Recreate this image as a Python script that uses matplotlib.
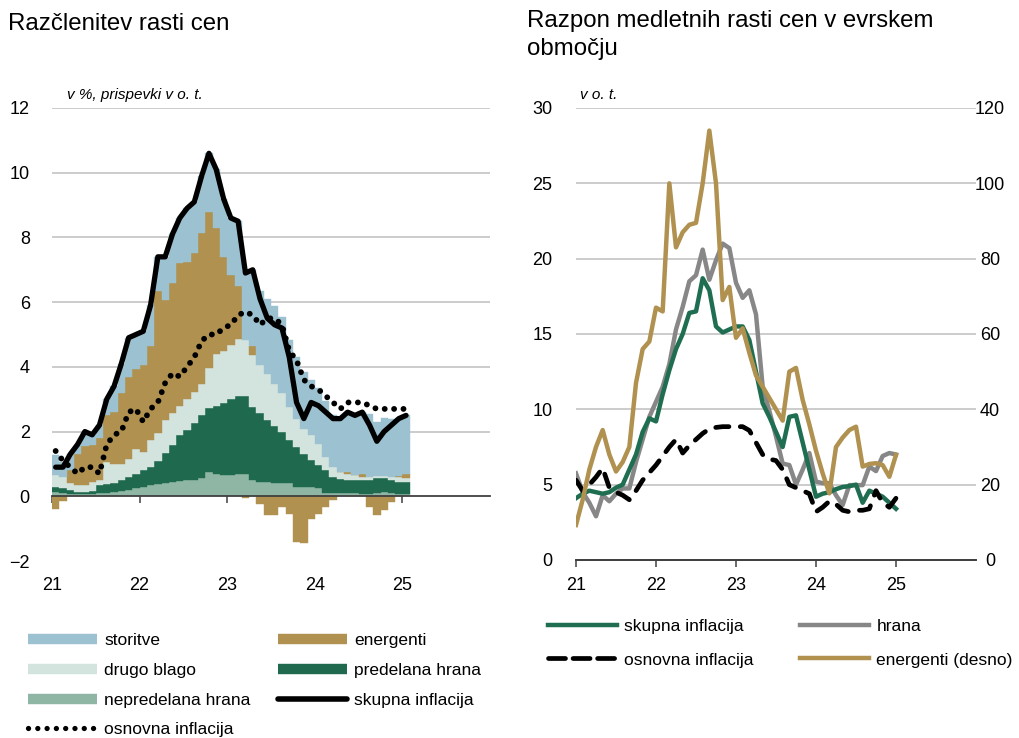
import matplotlib
matplotlib.use('Agg')
import matplotlib.pyplot as plt
from matplotlib.lines import Line2D
import numpy as np

plt.rcParams['font.family'] = ['Liberation Sans', 'DejaVu Sans']

W, H = 1019, 738

# monthly, Jan 2021 .. Jan 2025
months = np.arange(49)
year_ticks = [0, 12, 24, 36, 48]
year_labels = ['21', '22', '23', '24', '25']

# left panel: contributions, p.p.
headline = [0.9, 0.9, 1.3, 1.6, 2.0, 1.9, 2.2, 3.0, 3.4, 4.1, 4.9, 5.0,
            5.1, 5.9, 7.4, 7.4, 8.1, 8.6, 8.9, 9.1, 9.9, 10.6, 10.1, 9.2,
            8.6, 8.5, 6.9, 7.0, 6.1, 5.5, 5.3, 5.2, 4.3, 2.9, 2.4, 2.9,
            2.8, 2.6, 2.4, 2.4, 2.6, 2.5, 2.6, 2.2, 1.7, 2.0, 2.2, 2.4,
            2.5]
core = [1.4, 1.1, 0.9, 0.7, 0.9, 0.9, 0.7, 1.6, 1.9, 2.0, 2.6, 2.7,
        2.3, 2.7, 2.9, 3.5, 3.8, 3.7, 4.0, 4.3, 4.8, 5.0, 5.0, 5.2,
        5.3, 5.6, 5.7, 5.6, 5.3, 5.5, 5.5, 5.3, 4.5, 4.2, 3.6, 3.4,
        3.3, 3.1, 2.9, 2.7, 2.9, 2.9, 2.9, 2.8, 2.7, 2.7, 2.7, 2.7,
        2.7]
unprocessed_food = [0.12, 0.1, 0.08, 0.06, 0.06, 0.08, 0.1, 0.1, 0.12, 0.15, 0.2, 0.25,
                    0.3, 0.35, 0.38, 0.4, 0.45, 0.48, 0.5, 0.5, 0.55, 0.75, 0.7, 0.65,
                    0.65, 0.7, 0.7, 0.5, 0.45, 0.45, 0.42, 0.4, 0.4, 0.3, 0.3, 0.3,
                    0.25, 0.1, 0.1, 0.1, 0.1, 0.1, 0.08, 0.08, 0.1, 0.12, 0.1, 0.08,
                    0.08]
processed_food = [0.17, 0.15, 0.12, 0.07, 0.07, 0.07, 0.24, 0.28, 0.3, 0.35, 0.4, 0.45,
                  0.5, 0.55, 0.72, 0.94, 1.15, 1.41, 1.55, 1.75, 1.95, 1.98, 2.1, 2.24,
                  2.35, 2.39, 2.4, 2.26, 2.11, 1.9, 1.74, 1.59, 1.33, 1.23, 1.02, 0.81,
                  0.71, 0.7, 0.5, 0.42, 0.4, 0.4, 0.42, 0.42, 0.45, 0.43, 0.4, 0.37,
                  0.37]
other_goods = [0.36, 0.35, 0.2, 0.21, 0.21, 0.3, 0.16, 0.68, 0.58, 0.5, 0.56, 0.77,
               0.56, 0.83, 0.86, 1.01, 0.98, 0.89, 0.97, 0.98, 0.98, 1.22, 1.61, 1.61,
               1.67, 1.76, 1.72, 1.6, 1.49, 1.44, 1.32, 1.19, 1.03, 0.87, 0.77, 0.78,
               0.67, 0.42, 0.31, 0.23, 0.2, 0.15, 0.1, 0.1, 0.07, 0.07, 0.1, 0.15,
               0.1]
energy = [-0.38, -0.15, 0.42, 0.98, 1.2, 1.15, 1.3, 1.44, 1.6, 2.2, 2.53, 2.45,
          2.7, 2.9, 4.37, 3.72, 4.02, 4.44, 4.23, 4.28, 4.65, 4.85, 3.88, 2.89,
          2.17, 1.65, -0.05, 0.3, -0.25, -0.59, -0.59, -0.33, -0.54, -1.4, -1.45, -0.69,
          -0.54, -0.33, -0.12, 0.0, 0.05, 0.02, 0.1, -0.33, -0.59, -0.43, -0.18, 0.02,
          0.15]
services = [0.63, 0.45, 0.48, 0.28, 0.46, 0.3, 0.4, 0.5, 0.8, 0.9, 1.21, 1.08,
            1.04, 1.27, 1.07, 1.33, 1.5, 1.38, 1.65, 1.59, 1.77, 1.8, 1.81, 1.81,
            1.76, 2.0, 2.13, 2.34, 2.3, 2.3, 2.41, 2.35, 2.08, 1.9, 1.76, 1.7,
            1.71, 1.71, 1.61, 1.65, 1.85, 1.83, 1.9, 1.93, 1.67, 1.81, 1.78, 1.78,
            1.8]

# right panel: ranges, p.p. (energy on right axis)
range_headline = [4.1, 4.4, 4.6, 4.5, 4.4, 4.5, 4.8, 5.0, 6.0, 7.0, 8.5, 9.4,
                  9.2, 11.0, 12.6, 14.0, 15.0, 16.4, 16.5, 18.7, 17.9, 15.5, 15.1, 15.3,
                  15.5, 15.5, 14.6, 12.5, 10.4, 9.5, 8.5, 7.5, 9.5, 9.6, 7.8, 6.0,
                  4.2, 4.4, 4.5, 4.7, 4.85, 4.9, 5.0, 3.8, 4.6, 4.4, 4.2, 3.8,
                  3.4]
range_food = [5.75, 4.5, 3.8, 2.9, 4.3, 3.9, 4.4, 4.75, 4.75, 6.5, 8.0, 9.5,
              10.5, 11.5, 13.0, 15.3, 16.8, 18.5, 18.9, 20.6, 18.6, 19.9, 21.0, 20.7,
              18.4, 17.4, 17.9, 16.3, 11.5, 9.9, 8.2, 6.4, 6.3, 5.0, 6.0, 7.1,
              5.2, 5.1, 5.1, 4.3, 3.65, 4.97, 4.97, 4.97, 6.2, 5.9, 6.9, 7.1,
              7.0]
range_core = [5.3, 4.6, 5.0, 5.5, 6.1, 4.8, 4.5, 4.3, 4.0, 4.6, 5.3, 5.8,
              6.3, 6.9, 7.5, 8.0, 7.1, 7.6, 8.0, 8.4, 8.7, 8.8, 8.85, 8.85,
              8.85, 8.85, 8.6, 7.8, 7.0, 6.7, 6.6, 6.0, 5.0, 4.8, 4.6, 4.4,
              3.2, 3.5, 3.9, 3.7, 3.3, 3.2, 3.3, 3.3, 3.4, 4.6, 3.8, 3.5,
              4.1]
range_energy = [9.3, 16, 24, 30, 34.5, 28, 23.5, 26, 30, 47, 56, 58,
                67, 66, 100, 83, 87, 89, 89.5, 100, 114, 100, 69, 72.5,
                59, 61.5, 55, 49, 46, 43, 40, 37, 50, 51, 42.5, 36,
                29, 23, 17.7, 30, 32.5, 34.5, 35.4, 24.8, 25.5, 25.7, 25.2, 22.1,
                27.9]

c_services = '#9cc2d1'
c_other = '#d3e3de'
c_unproc = '#8fb6a5'
c_energy = '#b0914f'
c_proc = '#1f6a4f'
c_grid = '#c4c4c4'
c_axis = '#404040'
c_green = '#1f6e51'
c_gray = '#878787'
c_gold = '#b0914f'

fig = plt.figure(figsize=(W / 100, H / 100), dpi=100)

# ---------------- left panel ----------------
ax1 = fig.add_axes([52 / W, 1 - 561 / H, 438 / W, 453 / H])
ax1.set_xlim(0, 60)
ax1.set_ylim(-2, 12)

for v in range(2, 13, 2):
    ax1.axhline(v, color=c_grid, lw=1.2, zorder=0.5)

layers = [(unprocessed_food, c_unproc), (processed_food, c_proc),
          (other_goods, c_other), (energy, c_energy), (services, c_services)]
pos_bottom = np.zeros(len(months))
neg_bottom = np.zeros(len(months))
for vals, color in layers:
    v = np.array(vals)
    bottom = np.where(v >= 0, pos_bottom, neg_bottom)
    ax1.bar(months, v, width=1.0, bottom=bottom, align='edge', color=color,
            edgecolor=color, lw=0.3, zorder=2)
    pos_bottom += np.clip(v, 0, None)
    neg_bottom += np.clip(v, None, 0)

ax1.plot(months + 0.5, headline, color='black', lw=3.8, solid_joinstyle='round',
         solid_capstyle='round', zorder=4)
ax1.plot(months + 0.5, core, color='black', lw=4.2, linestyle=(0, (0.01, 1.6)),
         dash_capstyle='round', zorder=5)

for side in ['top', 'right', 'left']:
    ax1.spines[side].set_visible(False)
ax1.spines['bottom'].set_position(('data', 0))
ax1.spines['bottom'].set_color(c_axis)
ax1.spines['bottom'].set_linewidth(1.3)
ax1.spines['bottom'].set_zorder(3)
ax1.set_xticks(year_ticks)
ax1.set_xticklabels(year_labels)
ax1.tick_params(axis='x', direction='out', length=5, width=1.1, color=c_axis,
                pad=53, labelsize=13)
ax1.set_yticks(range(-2, 13, 2))
ax1.tick_params(axis='y', length=0, pad=16, labelsize=13)

# ---------------- right panel ----------------
ax2 = fig.add_axes([576 / W, 1 - 560 / H, 400 / W, 452 / H])
ax2.set_xlim(0, 60)
ax2.set_ylim(0, 30)
for v in range(5, 31, 5):
    ax2.axhline(v, color=c_grid, lw=1.2, zorder=0.5)

ax2.plot(months, range_food, color=c_gray, lw=3.2, zorder=3)
ax2.plot(months, range_headline, color=c_green, lw=3.2, zorder=4)
ax2.plot(months, range_core, color='black', lw=3.4, linestyle=(0, (2.8, 2.4)),
         dash_capstyle='round', zorder=5)

ax2r = ax2.twinx()
ax2r.set_ylim(0, 120)
ax2r.plot(months, range_energy, color=c_gold, lw=3.2, zorder=3)

for a in (ax2, ax2r):
    for side in ['top', 'right', 'left']:
        a.spines[side].set_visible(False)
    a.spines['bottom'].set_color(c_axis)
    a.spines['bottom'].set_linewidth(1.3)
ax2.set_xticks(year_ticks)
ax2.set_xticklabels(year_labels)
ax2.tick_params(axis='x', direction='out', length=5, width=1.1, color=c_axis,
                pad=7, labelsize=13)
ax2.set_yticks(range(0, 31, 5))
ax2.tick_params(axis='y', length=0, pad=17, labelsize=13)
ax2r.set_yticks(range(0, 121, 20))
ax2r.tick_params(axis='y', length=0, pad=10, labelsize=13)
for lab in ax2r.get_yticklabels():
    lab.set_horizontalalignment('center')

# ---------------- texts ----------------
fig.text(8 / W, 1 - 24 / H, 'Razčlenitev rasti cen', fontsize=17.3, va='center')
fig.text(527 / W, 1 - 10 / H, 'Razpon medletnih rasti cen v evrskem\nobmočju',
         fontsize=17.3, va='top', linespacing=1.38)
fig.text(67 / W, 1 - 95 / H, 'v %, prispevki v o. t.', fontsize=11, style='italic',
         va='center')
fig.text(580 / W, 1 - 95 / H, 'v o. t.', fontsize=11, style='italic', va='center')

# ---------------- legends ----------------
def bar_handle(color, label):
    return Line2D([], [], color=color, lw=7.5, solid_capstyle='butt', label=label)


leg_kw = dict(frameon=False, loc='upper left', borderpad=0, borderaxespad=0,
              handlelength=4.0, handletextpad=0.4, labelspacing=0.84, fontsize=12.5)
left_col1 = [bar_handle(c_services, 'storitve'),
             bar_handle(c_other, 'drugo blago'),
             bar_handle(c_unproc, 'nepredelana hrana'),
             Line2D([], [], color='black', lw=3.8, linestyle=(0, (0.01, 1.75)),
                    dash_capstyle='round', label='osnovna inflacija')]
left_col2 = [bar_handle(c_energy, 'energenti'),
             bar_handle(c_proc, 'predelana hrana'),
             Line2D([], [], color='black', lw=4, solid_capstyle='round',
                    label='skupna inflacija')]
fig.legend(handles=left_col1, bbox_to_anchor=(28 / W, 1 - 633 / H), **leg_kw)
fig.legend(handles=left_col2, bbox_to_anchor=(278 / W, 1 - 633 / H), **leg_kw)

right_col1 = [Line2D([], [], color=c_green, lw=3.2, label='skupna inflacija'),
              Line2D([], [], color='black', lw=3.4, linestyle=(0, (3.6, 1.6)),
                     dash_capstyle='round', label='osnovna inflacija')]
right_col2 = [Line2D([], [], color=c_gray, lw=3.2, label='hrana'),
              Line2D([], [], color=c_gold, lw=3.2, label='energenti (desno)')]
leg_kw_r = dict(leg_kw, labelspacing=1.05)
fig.legend(handles=right_col1, bbox_to_anchor=(548 / W, 1 - 619 / H), **leg_kw_r)
fig.legend(handles=right_col2, bbox_to_anchor=(800 / W, 1 - 619 / H), **leg_kw_r)

fig.savefig('out.png', dpi=100)
